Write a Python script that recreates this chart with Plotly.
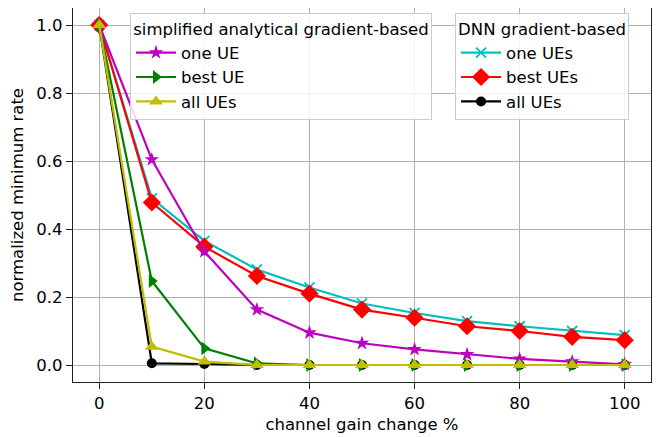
import plotly.graph_objects as go

x = [0, 10, 20, 30, 40, 50, 60, 70, 80, 90, 100]

sa_one_ue = [1.0, 0.604, 0.334, 0.163, 0.095, 0.064, 0.046, 0.031, 0.018, 0.010, 0.002]
sa_best_ue = [1.0, 0.247, 0.049, 0.005, 0.0, 0.0, 0.0, 0.0, 0.0, 0.0, 0.0]
sa_all_ues = [1.0, 0.054, 0.010, 0.0, 0.0, 0.0, 0.0, 0.0, 0.0, 0.0, 0.0]

dnn_one_ues = [1.0, 0.490, 0.365, 0.281, 0.228, 0.181, 0.153, 0.129, 0.114, 0.100, 0.088]
dnn_best_ues = [1.0, 0.478, 0.348, 0.262, 0.210, 0.163, 0.139, 0.114, 0.100, 0.083, 0.073]
dnn_all_ues = [1.0, 0.005, 0.003, 0.0, 0.0, 0.0, 0.0, 0.0, 0.0, 0.0, 0.0]

FONT = "DejaVu Sans"
FS = 16.5

fig = go.Figure()

def add(y, name, color, symbol, size, legend, rank, mline=0):
    fig.add_trace(go.Scatter(
        x=x, y=y, name=name, mode="lines+markers",
        line=dict(color=color, width=2.2),
        marker=dict(symbol=symbol, size=size, color=color,
                    line=dict(color=color, width=mline)),
        legend=legend, legendrank=rank,
    ))

add(dnn_all_ues, "all UEs", "black", "circle", 10, "legend2", 3)
add(dnn_one_ues, "one UEs", "#00bfbf", "x-thin", 10, "legend2", 1, mline=1.8)
add(dnn_best_ues, "best UEs", "red", "diamond", 14, "legend2", 2)
add(sa_one_ue, "one UE", "#bf00bf", "star", 11, "legend", 1)
add(sa_best_ue, "best UE", "green", "triangle-right", 12, "legend", 2)
add(sa_all_ues, "all UEs", "#bfbf00", "triangle-up", 12, "legend", 3)

axis_common = dict(
    showgrid=True, gridcolor="#b0b0b0", gridwidth=1,
    showline=True, linecolor="#222222", linewidth=1.2, mirror=True,
    ticks="outside", ticklen=6, tickcolor="#222222", tickwidth=1.2,
    zeroline=False, automargin=False,
    tickfont=dict(family=FONT, size=FS, color="black"),
)

# page body has an 8px default margin, so the figure is sized to fit the window
fig.update_layout(
    width=659, height=429,
    margin=dict(l=65, r=16, t=0, b=55),
    paper_bgcolor="white", plot_bgcolor="white",
    font=dict(family=FONT, size=FS, color="black"),
    xaxis=dict(range=[-5, 105], tickvals=[0, 20, 40, 60, 80, 100],
               title=dict(text="channel gain change %", font=dict(family=FONT, size=FS), standoff=6),
               **axis_common),
    yaxis=dict(range=[-0.05, 1.05], tickvals=[0, 0.2, 0.4, 0.6, 0.8, 1.0], tickformat=".1f",
               title=dict(text="normalized minimum rate", font=dict(family=FONT, size=FS), standoff=8),
               **axis_common),
    legend=dict(
        title=dict(text="simplified analytical gradient-based", side="top center",
                   font=dict(family=FONT, size=FS)),
        x=0.0986, y=0.987, xanchor="left", yanchor="top",
        bgcolor="rgba(255,255,255,0.85)", bordercolor="#cccccc", borderwidth=1,
        font=dict(family=FONT, size=FS), itemwidth=40,
        traceorder="normal",
    ),
    legend2=dict(
        title=dict(text="DNN gradient-based", side="top center",
                   font=dict(family=FONT, size=FS)),
        x=0.661, y=0.987, xanchor="left", yanchor="top",
        bgcolor="rgba(255,255,255,0.85)", bordercolor="#cccccc", borderwidth=1,
        font=dict(family=FONT, size=FS), itemwidth=40,
        traceorder="normal",
    ),
    showlegend=True,
)

fig.write_html("out.html")
